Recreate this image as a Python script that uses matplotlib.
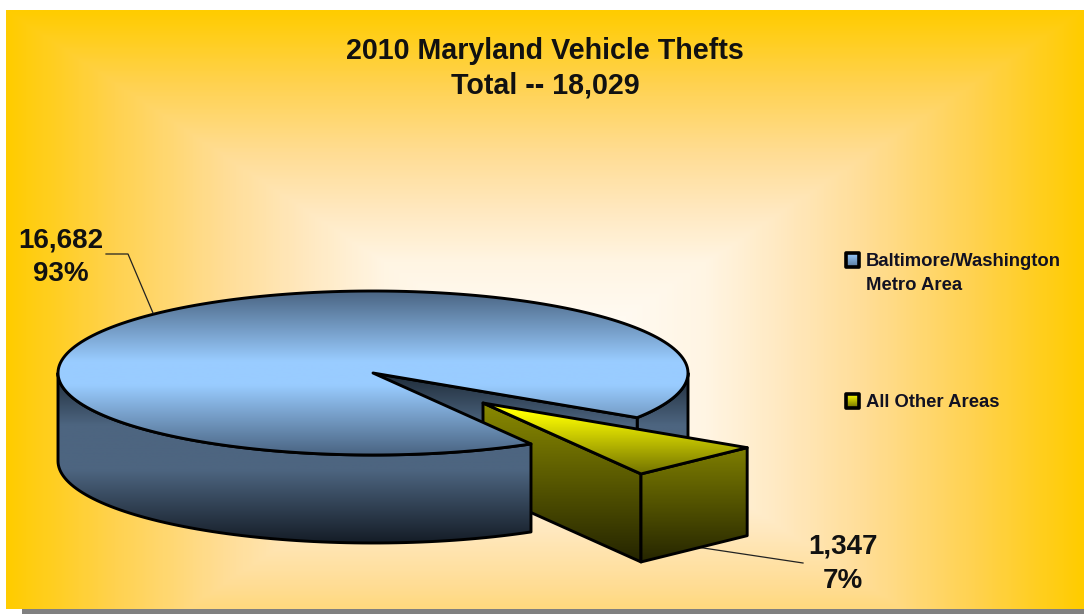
import numpy as np
import matplotlib
matplotlib.use('Agg')
import matplotlib.pyplot as plt
from matplotlib.colors import LinearSegmentedColormap
from matplotlib.patches import Polygon, Rectangle

plt.rcParams['font.family'] = ['Liberation Sans', 'DejaVu Sans']

title_lines = ['2010 Maryland Vehicle Thefts', 'Total -- 18,029']
categories = ['Baltimore/Washington\nMetro Area', 'All Other Areas']
thefts = [16682, 1347]
value_labels = ['16,682', '1,347']
percent_labels = ['93%', '7%']

# pie geometry, all in pixels of the 1084x614 picture
cx, cy = 373, 373
rx, ry = 315, 82
depth = 88
explode = (110, 30)
start_angle = 33

fig = plt.figure(figsize=(10.84, 6.14), dpi=100, facecolor='white')
ax = fig.add_axes([0, 0, 1, 1])
ax.set_xlim(0, 1084)
ax.set_ylim(614, 0)
ax.axis('off')


def ell(angles, dx=0, dy=0):
    a = np.radians(angles)
    return np.column_stack([cx + dx + rx * np.cos(a), cy + dy + ry * np.sin(a)])


def grad_poly(verts, stops, colors, z, lw=2.1):
    # vertical gradient clipped to a polygon, stops are pixel rows
    verts = np.asarray(verts)
    y0, y1 = stops[0], stops[-1]
    pos = [(s - y0) / (y1 - y0) for s in stops]
    cmap = LinearSegmentedColormap.from_list('g', list(zip(pos, colors)))
    col = np.linspace(0, 1, 256).reshape(-1, 1)
    im = ax.imshow(col, cmap=cmap, vmin=0, vmax=1, aspect='auto', zorder=z,
                   extent=(verts[:, 0].min() - 2, verts[:, 0].max() + 2, y1, y0))
    clip = Polygon(verts, closed=True, transform=ax.transData, facecolor='none', edgecolor='none')
    ax.add_patch(clip)
    im.set_clip_path(clip)
    ax.add_patch(Polygon(verts, closed=True, fill=False, edgecolor='black', lw=lw, zorder=z + 0.1,
                         joinstyle='round'))


# background, rectangular "from centre" gradient
bx0, bx1, by0, by1 = 6, 1084, 10, 609
gx, gy = np.meshgrid(np.linspace(bx0, bx1, 540), np.linspace(by0, by1, 300))
t = np.maximum(np.abs(gx - 545) / 539, np.abs(gy - 370) / 360)
bg_cmap = LinearSegmentedColormap.from_list('bg', [(0, '#FFFFFF'), (0.3, '#FFF5E3'), (0.45, '#FFE8BE'),
                                                   (0.6, '#FFDD95'), (0.8, '#FFD24F'), (1, '#FFCC00')])
ax.imshow(t, cmap=bg_cmap, vmin=0, vmax=1, extent=(bx0, bx1, by1, by0), aspect='auto', zorder=0,
          interpolation='bilinear')
ax.add_patch(Rectangle((22, 609), 1062, 5, facecolor='#808080', edgecolor='none', zorder=0))

# slice angles come from the values
gap = 360 * thefts[1] / sum(thefts)
a_small0, a_small1 = start_angle, start_angle + gap

blue_wall_stops = [373, 425, 470, 545]
blue_wall_cols = ['#1e2b38', '#4d6580', '#4d6580', '#131a24']
olive_stops = [403, 560]
olive_cols = ['#8a8a00', '#252500']

# back part of the rim and the cut face seen through the gap
arc = ell(np.linspace(0, a_small0, 40))
grad_poly(np.vstack([arc, (arc + [0, depth])[::-1]]), blue_wall_stops, blue_wall_cols, 1)
p = ell([a_small0])[0]
grad_poly([(cx, cy), p, p + [0, depth], (cx, cy + depth)], blue_wall_stops, blue_wall_cols, 1.5)

# exploded slice, its short outer edge is nearly straight in the source
dx, dy = explode
arc_s = ell([a_small0, a_small1], dx, dy)
apex = np.array([cx + dx, cy + dy])
outer = arc_s[-1]
grad_poly([apex, outer, outer + [0, depth], apex + [0, depth]], olive_stops, olive_cols, 2)
grad_poly(np.vstack([arc_s, (arc_s + [0, depth])[::-1]]), [445, 562], ['#808000', '#252500'], 2.2)
grad_poly(np.vstack([apex, arc_s]), [400, 412, 476], ['#FFFF00', '#FFFF00', '#6e6e00'], 2.4)

# main slice, front rim then top
arc_f = ell(np.linspace(a_small1, 180, 80))
grad_poly(np.vstack([arc_f, (arc_f + [0, depth])[::-1]]), blue_wall_stops, blue_wall_cols, 3)
arc_top = ell(np.linspace(a_small1, a_small0 + 360, 200))
grad_poly(np.vstack([[cx, cy], arc_top]), [cy - ry, cy - 12, cy + 12, cy + ry],
          ['#4a6482', '#99CCFF', '#99CCFF', '#4a6482'], 3.5)

# title and labels
ax.text(545, 51, title_lines[0], ha='center', va='center', fontsize=20.6, fontweight='bold', color='#111111', zorder=6)
ax.text(545, 86, title_lines[1], ha='center', va='center', fontsize=20.6, fontweight='bold', color='#111111', zorder=6)

ax.text(61, 240, value_labels[0], ha='center', va='center', fontsize=20, fontweight='bold', color='#111111', zorder=6)
ax.text(61, 274, percent_labels[0], ha='center', va='center', fontsize=20, fontweight='bold', color='#111111', zorder=6)
ax.text(843, 547, value_labels[1], ha='center', va='center', fontsize=20, fontweight='bold', color='#111111', zorder=6)
ax.text(843, 581, percent_labels[1], ha='center', va='center', fontsize=20, fontweight='bold', color='#111111', zorder=6)

ax.plot([106, 128, 153], [254, 254, 313], color='#222222', lw=0.9, zorder=5)
ax.plot([690, 803], [546, 563], color='#222222', lw=0.9, zorder=1.9)

# legend
legend_y = [260, 401]
legend_cols = [['#99CCFF', '#5a7a9c'], ['#FFFF00', '#6e6e00']]
for name, ly, lc in zip(categories, legend_y, legend_cols):
    grad_poly([(846, ly - 7), (859, ly - 7), (859, ly + 7), (846, ly + 7)], [ly - 7, ly + 7], lc, 6, lw=2.6)
    ax.text(866, ly - 7, name, ha='left', va='top', fontsize=13.3, fontweight='bold', color='#111122',
            linespacing=1.55, zorder=6)

ax.set_xlim(0, 1084)
ax.set_ylim(614, 0)
fig.savefig('out.png', dpi=100)
